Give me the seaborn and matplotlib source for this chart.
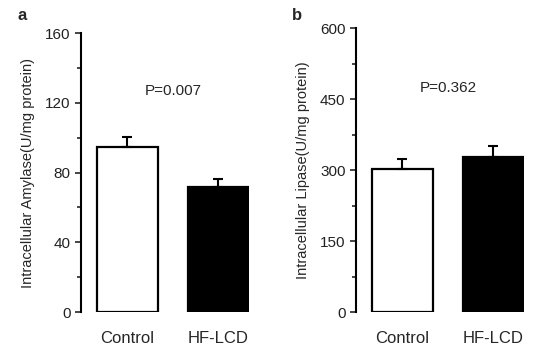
import matplotlib
matplotlib.use("Agg")
import matplotlib.pyplot as plt
import seaborn as sns
import pandas as pd

groups = ["Control", "HF-LCD"]
amylase = [94.5, 71.5]
amylase_err = [6.0, 4.5]
lipase = [303, 328]
lipase_err = [21, 22]
bar_colors = ["white", "black"]

sns.set_style("white")
plt.rcParams["font.family"] = ["Liberation Sans", "DejaVu Sans"]

fig = plt.figure(figsize=(5.5, 3.6), dpi=100)
ax_a = fig.add_axes([0.1473, 0.1333, 0.3054, 0.775])
ax_b = fig.add_axes([0.6473, 0.1333, 0.3054, 0.7889])


def draw_panel(ax, vals, errs, ymax, step, ylabel, ptext, py):
    df = pd.DataFrame({"group": groups, "value": vals})
    sns.barplot(data=df, x="group", y="value", hue="group", palette=bar_colors,
                edgecolor="black", linewidth=1.6, width=0.67, legend=False, ax=ax)
    ax.errorbar([0, 1], vals, yerr=[[0, 0], errs], fmt="none", ecolor="black",
                elinewidth=1.5, capsize=3.5, capthick=1.5)
    ax.set_xlim(-0.51, 1.335)
    ax.set_ylim(0, ymax)
    ax.set_yticks(range(0, ymax + 1, step * 2))
    ax.set_yticks(range(step, ymax, step * 2), minor=True)
    ax.tick_params(axis="y", which="major", direction="out", length=4, width=1.2,
                   labelsize=11, left=True, labelcolor="#222222")
    ax.tick_params(axis="y", which="minor", direction="out", length=3, width=1.2, left=True)
    ax.tick_params(axis="x", length=0, labelsize=12, pad=14)
    for s in ["top", "right", "bottom"]:
        ax.spines[s].set_visible(False)
    ax.spines["left"].set_linewidth(1.5)
    ax.spines["left"].set_color("black")
    ax.set_xlabel("")
    ax.set_ylabel(ylabel, fontsize=10.5, labelpad=7)
    ax.text(0.5, py, ptext, ha="center", va="center", fontsize=11)


draw_panel(ax_a, amylase, amylase_err, 160, 20,
           "Intracellular Amylase(U/mg protein)", "P=0.007", 127)
draw_panel(ax_b, lipase, lipase_err, 600, 75,
           "Intracellular Lipase(U/mg protein)", "P=0.362", 474)

fig.text(22 / 550, 1 - 16 / 360, "a", fontsize=12, fontweight="bold", ha="center", va="center")
fig.text(297 / 550, 1 - 16 / 360, "b", fontsize=12, fontweight="bold", ha="center", va="center")

fig.savefig("out.png", dpi=100)
